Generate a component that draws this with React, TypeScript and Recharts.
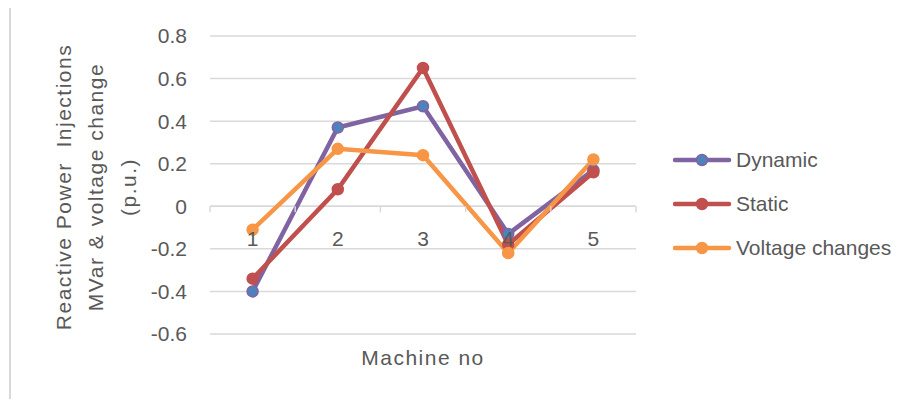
import React from 'react';
import {
  LineChart,
  Line,
  XAxis,
  YAxis,
  CartesianGrid,
  Legend,
  ReferenceLine
} from 'recharts';

const machines = ['1', '2', '3', '4', '5'];
const dynamicValues = [-0.4, 0.37, 0.47, -0.13, 0.17];
const staticValues = [-0.34, 0.08, 0.65, -0.18, 0.16];
const voltageValues = [-0.11, 0.27, 0.24, -0.22, 0.22];
const yTicks = [-0.6, -0.4, -0.2, 0, 0.2, 0.4, 0.6, 0.8];
const seriesNames = ['Dynamic', 'Static', 'Voltage changes'];
const yTitleLines = ['Reactive Power  Injections', 'MVar & voltage change', '(p.u.)'];
const xTitle = 'Machine no';

const W = 904;
const H = 391;
const PLOT_LEFT = 202;
const PLOT_TOP = 28;
const PLOT_W = 426;
const PLOT_H = 298;
const Y_MIN = -0.6;
const Y_MAX = 0.8;
const BAND = PLOT_W / machines.length;
const ZERO_Y = PLOT_TOP + (PLOT_H * Y_MAX) / (Y_MAX - Y_MIN);

const FONT = '"Liberation Sans", Arial, sans-serif';
const TEXT = '#595959';
const GRID = '#d9d9d9';

const series = [
  { key: 'dynamic', name: seriesNames[0], line: '#8064A2', dot: '#4F81BD' },
  { key: 'static', name: seriesNames[1], line: '#C0504D', dot: '#C0504D' },
  { key: 'voltage', name: seriesNames[2], line: '#F79646', dot: '#F79646' }
];

const data = machines.map((m, i) => ({
  machine: m,
  dynamic: dynamicValues[i],
  static: staticValues[i],
  voltage: voltageValues[i]
}));

// category labels sit just under the zero line, like Excel's "next to axis"
const MachineTick = (props: any) => {
  const { x, payload, index } = props;
  const left = x - BAND / 2;
  const right = x + BAND / 2;
  return (
    <g>
      <line x1={left} x2={left} y1={ZERO_Y} y2={ZERO_Y + 6} stroke={GRID} strokeWidth={1.5} />
      {index === machines.length - 1 && (
        <line x1={right} x2={right} y1={ZERO_Y} y2={ZERO_Y + 6} stroke={GRID} strokeWidth={1.5} />
      )}
      <text
        x={x}
        y={ZERO_Y + 32}
        dy="0.35em"
        textAnchor="middle"
        fill={TEXT}
        fontSize={21}
        fontFamily={FONT}
      >
        {payload.value}
      </text>
    </g>
  );
};

const YTitle = () => (
  <g>
    {yTitleLines.map((line, i) => (
      <text
        key={line}
        transform={`translate(${55 + i * 32.5}, 179) rotate(-90)`}
        textAnchor="middle"
        dominantBaseline="central"
        fill={TEXT}
        fontSize={21}
        fontFamily={FONT}
        letterSpacing={1.5}
        style={{ whiteSpace: 'pre' }}
      >
        {line}
      </text>
    ))}
  </g>
);

const XTitle = () => (
  <text
    x={PLOT_LEFT + PLOT_W / 2}
    y={349}
    textAnchor="middle"
    dominantBaseline="central"
    fill={TEXT}
    fontSize={21}
    fontFamily={FONT}
    letterSpacing={1.5}
  >
    {xTitle}
  </text>
);

const renderLegend = () => (
  <div style={{ fontFamily: FONT, fontSize: 21, color: TEXT }}>
    {series.map((s) => (
      <div key={s.key} style={{ display: 'flex', alignItems: 'center', height: 44 }}>
        <svg width={63} height={16}>
          <line x1={2} x2={56} y1={8} y2={8} stroke={s.line} strokeWidth={4.5} strokeLinecap="round" />
          <circle cx={29} cy={8} r={5.5} fill={s.dot} stroke={s.line} strokeWidth={1.5} />
        </svg>
        <span style={{ whiteSpace: 'nowrap' }}>{s.name}</span>
      </div>
    ))}
  </div>
);

export default function App() {
  return (
    <div style={{ position: 'relative', width: W, height: H }}>
      <div
        style={{
          position: 'absolute',
          left: 1,
          top: -1,
          width: 2,
          height: H + 1,
          background: GRID
        }}
      />
      <LineChart
        width={W}
        height={H}
        data={data}
        margin={{ top: PLOT_TOP, right: W - PLOT_LEFT - PLOT_W, bottom: H - PLOT_TOP - PLOT_H - 30, left: PLOT_LEFT - 60 }}
      >
        <CartesianGrid vertical={false} stroke={GRID} strokeWidth={1.5} />
        <XAxis
          dataKey="machine"
          axisLine={false}
          tickLine={false}
          height={30}
          padding={{ left: BAND / 2, right: BAND / 2 }}
          tick={<MachineTick />}
          interval={0}
          label={<XTitle />}
        />
        <YAxis
          width={60}
          domain={[Y_MIN, Y_MAX]}
          ticks={yTicks}
          axisLine={false}
          tickLine={false}
          tickSize={0}
          tickMargin={23}
          tickFormatter={(v: number) => (v === 0 ? '0' : v.toFixed(1))}
          tick={{ fill: TEXT, fontSize: 21, fontFamily: FONT }}
          label={<YTitle />}
        />
        <ReferenceLine y={0} stroke={GRID} strokeWidth={1.5} />
        <Legend
          layout="vertical"
          align="center"
          verticalAlign="middle"
          content={renderLegend}
          wrapperStyle={{ left: 665, top: 130, width: 239 }}
        />
        {series.map((s) => (
          <Line
            key={s.key}
            type="linear"
            dataKey={s.key}
            name={s.name}
            stroke={s.line}
            strokeWidth={4.5}
            dot={{ r: 5.5, fill: s.dot, stroke: s.line, strokeWidth: 1.5 }}
            activeDot={false}
            isAnimationActive={false}
          />
        ))}
      </LineChart>
    </div>
  );
}
